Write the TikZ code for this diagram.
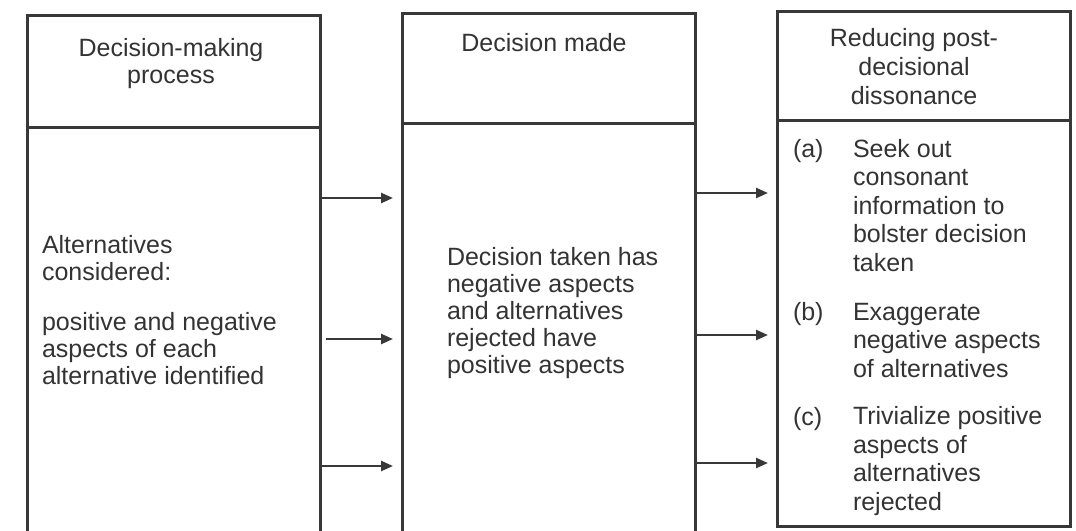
\documentclass[tikz,border=0pt]{standalone}
\usepackage{fontspec}
\setmainfont{Liberation Sans}
\usetikzlibrary{arrows.meta}

\newlength{\du}
\setlength{\du}{1pt}
\definecolor{dialinecolor}{rgb}{0.220000, 0.220000, 0.220000}
\definecolor{diatextcolor}{rgb}{0.200000, 0.200000, 0.200000}
\tikzset{
  colbox/.style={rectangle, draw=dialinecolor, line width=3\du, inner sep=0pt, outer sep=0pt, anchor=north west},
  boxtext/.style={text=diatextcolor, inner sep=0pt, outer sep=0pt, align=left, anchor=base west, font=\fontsize{25}{27}\selectfont},
  itemtext/.style={boxtext, font=\fontsize{25}{28.5}\selectfont},
  headtext/.style={boxtext, align=center, anchor=base},
  flow/.style={draw=dialinecolor, line width=2.4\du, -{Triangle[length=12pt,width=10pt]}, shorten >=9\du}
}

\begin{document}
\begin{tikzpicture}
\pgftransformxscale{1.000000}
\pgftransformyscale{-1.000000}
\useasboundingbox (0\du,0\du) rectangle (1076\du,530\du);
% boxes
\node[colbox, minimum width=293\du, minimum height=112\du] (prochead) at (27\du,15\du) {};
\node[colbox, minimum width=293\du, minimum height=413\du] (procbody) at (27\du,127\du) {};
\node[colbox, minimum width=293\du, minimum height=110\du] (madehead) at (402\du,13\du) {};
\node[colbox, minimum width=293\du, minimum height=417\du] (madebody) at (402\du,123\du) {};
\node[colbox, minimum width=293\du, minimum height=109\du] (reduhead) at (777\du,11\du) {};
\node[colbox, minimum width=293\du, minimum height=406\du] (redubody) at (777\du,120\du) {};
% headers (placed at the baseline of their last line)
\node[headtext] (proctitle) at (171\du,83\du) {Decision-making\\process};
\node[headtext] (madetitle) at (544\du,51\du) {Decision made};
\node[headtext] (redutitle) at (914\du,104\du) {Reducing post-\\[2pt]decisional\\[2pt]dissonance};
% left column
\node[boxtext] (altcons) at (42\du,280\du) {Alternatives\\considered:};
\node[boxtext] (altaspects) at (42\du,384\du) {positive and negative\\aspects of each\\alternative identified};
% middle column
\node[boxtext] (taken) at (447\du,373\du) {Decision taken has\\negative aspects\\and alternatives\\rejected have\\positive aspects};
% right column
\node[itemtext] (labela) at (793\du,157\du) {(a)};
\node[itemtext] (seek) at (853\du,271\du) {Seek out\\consonant\\information to\\bolster decision\\taken};
\node[itemtext] (labelb) at (793\du,320\du) {(b)};
\node[itemtext] (exag) at (853\du,377\du) {Exaggerate\\negative aspects\\of alternatives};
\node[itemtext] (labelc) at (793\du,425\du) {(c)};
\node[itemtext] (trivial) at (853\du,510\du) {Trivialize positive\\aspects of\\alternatives\\rejected};
% arrows
\coordinate (pa) at (320\du,198\du);
\coordinate (pb) at (320\du,339\du);
\coordinate (pc) at (320\du,466\du);
\coordinate (ma) at (695\du,193\du);
\coordinate (mb) at (695\du,335\du);
\coordinate (mc) at (695\du,463\du);
\draw[flow] (pa) -- (pa -| madebody.west);
\draw[flow, shorten <=6\du] (pb) -- (pb -| madebody.west);
\draw[flow] (pc) -- (pc -| madebody.west);
\draw[flow] (ma) -- (ma -| redubody.west);
\draw[flow] (mb) -- (mb -| redubody.west);
\draw[flow] (mc) -- (mc -| redubody.west);
\end{tikzpicture}
\end{document}
